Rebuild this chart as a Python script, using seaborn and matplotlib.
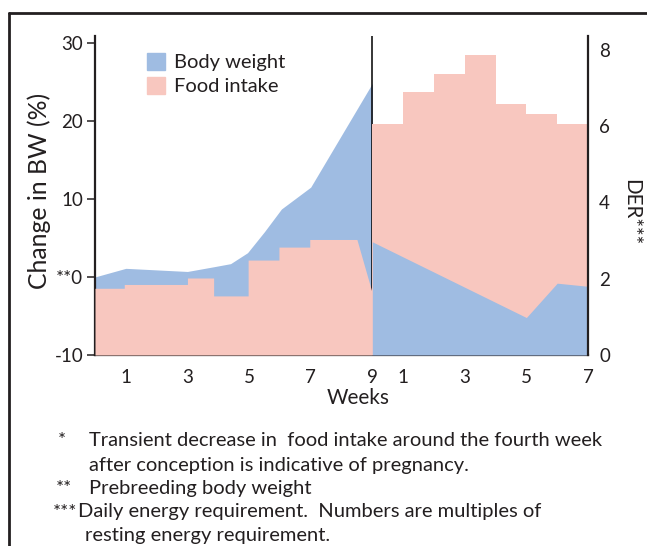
import numpy as np
import matplotlib
matplotlib.use("Agg")
import matplotlib.pyplot as plt
import seaborn as sns
from matplotlib.patches import Patch

# ---------------- data ----------------
# Body weight change (%) during gestation (weeks 0-9)
gest_bw_weeks = [0.0, 1.0, 3.0, 3.85, 4.4, 4.95, 5.5, 6.05, 7.0, 9.0]
gest_bw_change = [0.0, 1.1, 0.7, 1.3, 1.7, 3.1, 5.8, 8.7, 11.5, 24.8]
# Body weight change (%) during lactation (weeks 0-7)
lact_bw_weeks = [0.0, 5.0, 6.0, 7.0]
lact_bw_change = [4.5, -5.2, -0.8, -1.2]

# Food intake (DER multiples), gestation steps (start week, value)
gest_food_start = [0.0, 0.95, 3.0, 3.85, 4.97, 5.97, 6.97]
gest_food_der = [1.75, 1.85, 2.02, 1.55, 2.49, 2.83, 3.03]
gest_food_tail_weeks = [8.5, 9.0]
gest_food_tail_der = [3.03, 1.62]
# Food intake (DER multiples), lactation weekly steps
lact_food_start = [0, 1, 2, 3, 4, 5, 6]
lact_food_der = [6.05, 6.9, 7.37, 7.87, 6.58, 6.31, 6.05]

gest_tick_weeks = [1, 3, 5, 7, 9]
lact_tick_weeks = [1, 3, 5, 7]
bw_ticks = [-10, 0, 10, 20, 30]
bw_tick_labels = ["-10", "**0", "10", "20", "30"]
der_ticks = [0, 2, 4, 6, 8]

GEST_LEN = 9
LACT_LEN = 7

footnote_marks = [("*", 58, 446.5), ("**", 56, 494), ("***", 53, 517.5)]
footnote_lines = [
    ("Transient decrease in  food intake around the fourth week", 89, 446.5),
    ("after conception is indicative of pregnancy.", 89, 470.5),
    ("Prebreeding body weight", 89, 494),
    ("Daily energy requirement.  Numbers are multiples of", 78, 517.5),
    ("resting energy requirement.", 85, 541),
]

# ---------------- style ----------------
BLUE = "#9FBCE2"
PINK = "#F8C7BF"
INK = "#231F20"

sns.set_theme(style="white")
plt.rcParams["font.family"] = ["Lato", "DejaVu Sans"]
plt.rcParams["text.color"] = INK

W, H = 647, 546
fig = plt.figure(figsize=(W / 100, H / 100), dpi=100)


def fx(x):
    return x / W


def fy(y):
    return 1 - y / H


ax_l, ax_r, ax_b, ax_t = 95, 588, 355, 36
ax = fig.add_axes([fx(ax_l), fy(ax_b), (ax_r - ax_l) / W, (ax_b - ax_t) / H])
ax2 = ax.twinx()

# ---------------- build step shapes ----------------
gx, gy = [], []
for i, (s, v) in enumerate(zip(gest_food_start, gest_food_der)):
    e = gest_food_start[i + 1] if i + 1 < len(gest_food_start) else gest_food_tail_weeks[0]
    gx += [s, e]
    gy += [v, v]
gx += gest_food_tail_weeks[1:]
gy += gest_food_tail_der[1:]

lx, ly = [], []
for s, v in zip(lact_food_start, lact_food_der):
    lx += [GEST_LEN + s, GEST_LEN + s + 1]
    ly += [v, v]

lact_bw_x = [GEST_LEN + w for w in lact_bw_weeks]

# gestation: body weight behind food intake
ax.fill_between(gest_bw_weeks, -10, gest_bw_change, color=BLUE, lw=0, zorder=1)
ax2.fill_between(gx, 0, gy, color=PINK, lw=0, zorder=1)
# lactation: food intake behind body weight
ax2.fill_between(lx, 0, ly, color=PINK, lw=0, zorder=1)
ax2.fill_between(lact_bw_x, -10, lact_bw_change, color=BLUE, lw=0, zorder=2,
                 transform=ax.transData)

ax.axvline(GEST_LEN, color="black", lw=1.1, zorder=5)

# ---------------- axes ----------------
ax.set_xlim(0, GEST_LEN + LACT_LEN)
ax.set_ylim(-10, 30.86)
ax2.set_ylim(0, 8.367)

xt = gest_tick_weeks + [GEST_LEN + w for w in lact_tick_weeks]
xl = [str(w) for w in gest_tick_weeks] + [str(w) for w in lact_tick_weeks]
ax.set_xticks(xt)
ax.set_xticklabels(xl)
ax.set_yticks(bw_ticks)
ax.set_yticklabels(bw_tick_labels)
ax2.set_yticks(der_ticks)
ax2.set_yticklabels([str(v) for v in der_ticks])

TICK_FS = 13.5
ax.tick_params(axis="x", length=0, pad=10, labelsize=TICK_FS, colors=INK)
ax.tick_params(axis="y", left=True, direction="out", length=6, width=1.1,
               pad=2.5, labelsize=TICK_FS, colors=INK)
ax2.tick_params(axis="y", right=True, direction="out", length=6, width=1.1,
                pad=2, labelsize=TICK_FS, colors=INK)

sns.despine(ax=ax, top=True, right=True, left=False, bottom=False)
sns.despine(ax=ax2, top=True, right=False, left=True, bottom=True)
for sp in ["left", "bottom"]:
    ax.spines[sp].set_linewidth(1.6)
    ax.spines[sp].set_color(INK)
ax2.spines["right"].set_linewidth(1.6)
ax2.spines["right"].set_color(INK)
ax.set_zorder(1)
ax2.set_zorder(2)
ax.patch.set_visible(False)
ax2.patch.set_visible(False)

# ---------------- labels ----------------
ylab = fig.text(fx(39), fy(191), "Change in BW (%)", rotation=90,
                ha="center", va="center", fontsize=15)
rlab = fig.text(fx(631), fy(212), "DER***", rotation=270,
                ha="center", va="center", fontsize=15)
wlab = fig.text(fx(358), fy(398), "Weeks", ha="center", va="center", fontsize=15)

gt = ax.text(4.35, -7.95, "Gestation", ha="center", va="center", fontsize=16, zorder=6)
lt = ax.text(12.56, -7.95, "Lactation", ha="center", va="center", fontsize=16, zorder=6)
ax.text(4.38, -4.6, "*", ha="center", va="center", fontsize=16, zorder=6)

leg = ax2.legend(handles=[Patch(color=BLUE), Patch(color=PINK)],
                 labels=["Body weight", "Food intake"],
                 loc="upper left", bbox_to_anchor=(fx(147), fy(53)),
                 bbox_transform=fig.transFigure, frameon=False, fontsize=14,
                 handlelength=0.95, handleheight=0.95, handletextpad=0.45,
                 labelspacing=0.32, borderpad=0, borderaxespad=0)

fn_texts = [fig.text(fx(x), fy(y), s, ha="left", va="baseline", fontsize=13)
            for s, x, y in footnote_lines]
fn_marks = [fig.text(fx(x), fy(y), s, ha="left", va="baseline", fontsize=13.5)
            for s, x, y in footnote_marks]

# frame around the figure (left and top edges visible)
fig.add_artist(plt.Line2D([fx(9), fx(9)], [0, fy(13)], transform=fig.transFigure,
                          color=INK, lw=2))
fig.add_artist(plt.Line2D([fx(9), 1], [fy(13), fy(13)], transform=fig.transFigure,
                          color=INK, lw=2))


# ---------------- fit text sizes to reference extents ----------------
def fit(t, target, dim="w"):
    fig.canvas.draw()
    bb = t.get_window_extent(fig.canvas.get_renderer())
    cur = bb.width if dim == "w" else bb.height
    if cur > 0:
        t.set_fontsize(t.get_fontsize() * target / cur)


fit(gt, 95)
lt.set_fontsize(gt.get_fontsize())
fit(wlab, 63)
fit(ylab, 196, "h")
fit(rlab, 67, "h")
fit(fn_texts[0], 513)
for t in fn_texts:
    t.set_fontsize(fn_texts[0].get_fontsize())
fit(leg.get_texts()[0], 112)
leg_fs = leg.get_texts()[0].get_fontsize()
for t in leg.get_texts():
    t.set_fontsize(leg_fs)

fig.savefig("out.png", dpi=100)
